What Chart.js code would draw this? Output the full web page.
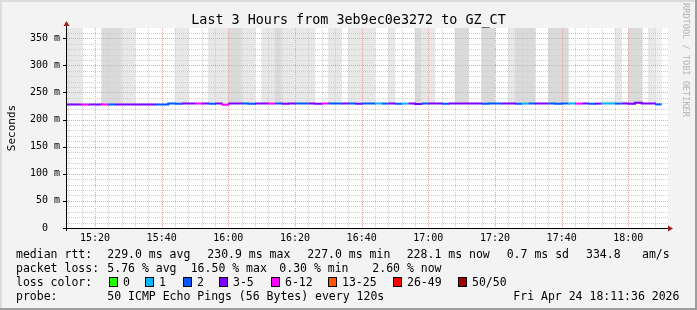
<!DOCTYPE html>
<html>
<head>
<meta charset="utf-8">
<script src="https://cdn.jsdelivr.net/npm/chart.js@4.4.1/dist/chart.umd.min.js"></script>
<style>
  html, body { margin: 0; padding: 0; background: #f3f3f3; }
  canvas { display: block; }
</style>
</head>
<body>
<canvas id="smokeChart" width="697" height="310"></canvas>
<script>
// Time window shown (minutes after midnight): 15:11:36 .. 18:11:36
const windowStart = 15 * 60 + 11.6;
const windowEnd = 18 * 60 + 11.6;

// First sample starts at 15:10, one sample every 2 minutes
const firstSample = 15 * 60 + 10;
const sampleStep = 2;

// Median round trip time per sample (ms)
const medianRtt = [
  227.9, 227.9, 227.8, 227.9, 228.0, 227.9, 227.8, 227.9, 227.9, 228.0,
  227.9, 227.9, 227.8, 227.9, 227.9, 227.9, 229.5, 229.4, 229.6, 229.5,
  229.5, 229.6, 229.4, 229.5, 227.6, 229.5, 229.6, 229.5, 229.4, 229.5,
  229.6, 229.5, 229.5, 229.4, 229.5, 229.6, 229.5, 229.5, 229.4, 229.6,
  229.5, 229.5, 229.6, 229.5, 229.4, 229.5, 229.5, 229.6, 229.5, 229.5,
  229.4, 229.5, 229.5, 229.0, 229.5, 229.6, 229.5, 229.4, 229.5, 229.5,
  229.6, 229.5, 229.5, 229.4, 229.5, 229.5, 229.6, 229.5, 229.4, 229.5,
  229.5, 229.6, 229.5, 229.5, 229.4, 229.5, 229.6, 229.5, 229.5, 229.4,
  229.5, 229.5, 229.6, 229.5, 229.5, 229.4, 230.9, 229.5, 229.6, 228.1
];

// Lost pings per sample (out of 50)
const lostPings = [
  4, 4, 3, 7, 4, 3, 8, 2, 3, 4,
  3, 5, 3, 4, 2, 2, 2, 2, 3, 4,
  7, 3, 2, 4, 7, 3, 5, 2, 2, 3,
  4, 7, 2, 3, 3, 2, 2, 4, 3, 6,
  2, 2, 3, 2, 4, 2, 2, 1, 2, 3,
  2, 1, 3, 4, 2, 3, 3, 2, 4, 3,
  5, 3, 3, 2, 2, 2, 3, 4, 2, 1,
  2, 3, 3, 2, 2, 2, 1, 6, 3, 2,
  3, 1, 1, 2, 3, 4, 3, 3, 4, 1.3
];

// Upper edge of the smoke above the median (ms); null = no smoke
const smokeTop = [
  999, 999, 999, null, null, null, 999, 999, 999, 999,
  999, null, null, null, null, null, null, 999, 999, null,
  null, null, 999, 999, 999, 999, 999, 999, 999, null,
  999, 999, 999, 999, 999, 999, 999, 999, null, null,
  999, 999, null, 999, 999, 999, 999, null, null, 999,
  null, null, null, 999, 999, 999, null, null, null, 999,
  999, null, null, 999, 999, null, null, 999, 999, 999,
  999, null, null, 999, 999, 999, null, null, null, null,
  null, 233.5, 233.5, 999, 233.5, 999, 999, null, 999, 999
];

// Smoke density per sample: 0 none, 1 light, 2 dense, 3 faint
const smokeLevel = [
  1, 1, 1, 0, 0, 0, 2, 2, 2, 1,
  1, 0, 0, 0, 0, 0, 0, 1, 1, 0,
  0, 0, 1, 1, 1, 2, 2, 1, 1, 0,
  1, 1, 2, 1, 1, 1, 1, 1, 0, 0,
  1, 1, 0, 1, 1, 1, 1, 0, 0, 1,
  0, 0, 0, 2, 1, 1, 0, 0, 0, 2,
  2, 0, 0, 2, 2, 0, 0, 1, 2, 2,
  2, 0, 0, 2, 2, 2, 0, 0, 0, 0,
  0, 1, 1, 1, 1, 2, 2, 0, 1, 3
];
const shadeColors = [null, "#e8e8e8", "#dadada", "#f0f0f0"];

// Axis ticks
const timeTicks = ["15:20", "15:40", "16:00", "16:20", "16:40", "17:00", "17:20", "17:40", "18:00"];
const rttTicks = [0, 50, 100, 150, 200, 250, 300, 350];
const rttMax = 369;

// Loss colour legend
const lossLabels = ["0", "1", "2", "3-5", "6-12", "13-25", "26-49", "50/50"];
const lossLimits = [0, 1, 2, 5, 12, 25, 49, 50];
const lossColors = ["#26ff00", "#00b8ff", "#0059ff", "#7e00ff", "#ff00ff", "#ff5500", "#ff0000", "#a10000"];

const monoFont = '"DejaVu Sans Mono", monospace';

// Colour of the median line, picked by how many pings were lost
function lossColor(lost) {
  for (let i = 0; i < lossLimits.length; i++) {
    if (lost <= lossLimits[i]) return lossColors[i];
  }
  return lossColors[lossColors.length - 1];
}

function toMinutes(hhmm) {
  const parts = hhmm.split(":");
  return Number(parts[0]) * 60 + Number(parts[1]);
}

function toHhmm(minutes) {
  const h = Math.floor(minutes / 60);
  const m = Math.round(minutes % 60);
  return String(h).padStart(2, "0") + ":" + String(m).padStart(2, "0");
}

// Median points, one extra point closes the last step
const medianPoints = medianRtt.map((v, i) => ({ x: firstSample + i * sampleStep, y: v }));
medianPoints.push({ x: firstSample + medianRtt.length * sampleStep, y: medianRtt[medianRtt.length - 1] });

// Smoke columns as floating bars from the median up
const smokePoints = [];
const smokeColors = [];
smokeTop.forEach((top, i) => {
  if (top === null) return;
  smokePoints.push({ x: firstSample + i * sampleStep + sampleStep / 2, y: [medianRtt[i], top] });
  smokeColors.push(shadeColors[smokeLevel[i]]);
});

// Draws background, grid, axes, title and legend the rrdtool way
const rrdFrame = {
  id: "rrdFrame",
  beforeDraw(chart) {
    const { ctx, width, height, chartArea: a } = chart;
    ctx.save();
    ctx.fillStyle = "#f3f3f3";
    ctx.fillRect(0, 0, width, height);
    ctx.fillStyle = "#dcdcdc";
    ctx.fillRect(0, 0, width, 2);
    ctx.fillRect(0, 0, 2, height);
    ctx.fillStyle = "#9e9e9e";
    ctx.fillRect(0, height - 2, width, 2);
    ctx.fillRect(width - 2, 0, 2, height);
    ctx.fillStyle = "#ffffff";
    ctx.fillRect(a.left, a.top, a.right - a.left + 1, a.bottom - a.top);
    ctx.restore();
  },
  afterDatasetDraw(chart, args) {
    // grid goes over the smoke but under the median line
    if (args.meta.type !== "bar") return;
    const { ctx, chartArea: a, scales } = chart;
    const x = scales.x;
    const y = scales.y;
    ctx.save();
    ctx.lineWidth = 1;
    ctx.setLineDash([1, 1]);
    for (let m = Math.ceil(x.min / 4) * 4; m <= x.max; m += 4) {
      const px = Math.round(x.getPixelForValue(m)) + 0.5;
      ctx.strokeStyle = m % 20 === 0 ? "#f2a0a0" : "#cfcfcf";
      ctx.beginPath();
      ctx.moveTo(px, a.top);
      ctx.lineTo(px, a.bottom);
      ctx.stroke();
    }
    for (let v = 10; v <= y.max; v += 10) {
      const py = Math.round(y.getPixelForValue(v)) + 0.5;
      ctx.strokeStyle = v % 50 === 0 ? "#f2a0a0" : "#cfcfcf";
      ctx.beginPath();
      ctx.moveTo(a.left, py);
      ctx.lineTo(a.right + 1, py);
      ctx.stroke();
    }
    ctx.restore();
  },
  afterDatasetsDraw(chart) {
    const { ctx, chartArea: a, scales } = chart;
    const y = scales.y;
    const ax = a.left - 0.5;
    const ay = a.bottom + 0.5;
    ctx.save();
    ctx.strokeStyle = "#000000";
    ctx.lineWidth = 1;
    ctx.beginPath();
    ctx.moveTo(a.left - 4, ay);
    ctx.lineTo(a.right + 2, ay);
    ctx.moveTo(ax, a.bottom + 3);
    ctx.lineTo(ax, a.top - 3);
    // tick marks on the value axis
    rttTicks.forEach(v => {
      const py = Math.round(y.getPixelForValue(v)) + 0.5;
      ctx.moveTo(a.left - 4, py);
      ctx.lineTo(a.left, py);
    });
    ctx.stroke();
    // arrow heads
    ctx.fillStyle = "#9a2222";
    ctx.beginPath();
    ctx.moveTo(ax, a.top - 7);
    ctx.lineTo(ax - 3, a.top - 2);
    ctx.lineTo(ax + 3, a.top - 2);
    ctx.closePath();
    ctx.fill();
    ctx.beginPath();
    ctx.moveTo(a.right + 6, ay);
    ctx.lineTo(a.right + 1, ay - 3);
    ctx.lineTo(a.right + 1, ay + 3);
    ctx.closePath();
    ctx.fill();
    ctx.restore();
  },
  afterDraw(chart) {
    const { ctx } = chart;
    ctx.save();
    ctx.fillStyle = "#000000";
    ctx.textBaseline = "alphabetic";

    // Title
    ctx.font = "13.4px " + monoFont;
    ctx.textAlign = "center";
    ctx.fillText("Last 3 Hours from 3eb9ec0e3272 to GZ_CT", 348.5, 24);

    // Vertical axis title
    ctx.save();
    ctx.translate(14.5, 128);
    ctx.rotate(-Math.PI / 2);
    ctx.font = "11px " + monoFont;
    ctx.fillText("Seconds", 0, 0);
    ctx.restore();

    // Watermark
    ctx.save();
    ctx.translate(683, 60);
    ctx.rotate(Math.PI / 2);
    ctx.font = "8.6px " + monoFont;
    ctx.fillStyle = "#b4b4b4";
    ctx.fillText("RRDTOOL / TOBI OETIKER", 0, 0);
    ctx.restore();

    // Legend rows
    ctx.textAlign = "left";
    ctx.font = "11.5px " + monoFont;
    const row1 = [["median rtt:", 16], ["229.0 ms avg", 107.3], ["230.9 ms max", 207.3], ["227.0 ms min", 307.3],
      ["228.1 ms now", 406.7], ["0.7 ms sd", 506.7], ["334.8", 586], ["am/s", 642]];
    row1.forEach(p => ctx.fillText(p[0], p[1], 258));
    const row2 = [["packet loss:", 16], ["5.76 % avg", 107.3], ["16.50 % max", 190.7], ["0.30 % min", 279.3], ["2.60 % now", 372.3]];
    row2.forEach(p => ctx.fillText(p[0], p[1], 272));
    ctx.fillText("loss color:", 16, 286);
    const boxX = [108.7, 145.3, 182.7, 219.3, 270.7, 328.3, 393.3, 458.3];
    lossLabels.forEach((label, i) => {
      const bx = Math.round(boxX[i]);
      ctx.fillStyle = lossColors[i];
      ctx.fillRect(bx, 278, 8, 8);
      ctx.strokeStyle = "#000000";
      ctx.lineWidth = 1;
      ctx.strokeRect(bx + 0.5, 277.5, 8, 9);
      ctx.fillStyle = "#000000";
      ctx.fillText(label, bx + 14, 286);
    });
    ctx.fillText("probe:", 16, 300);
    ctx.fillText("50 ICMP Echo Pings (56 Bytes) every 120s", 107.3, 300);
    ctx.fillText("Fri Apr 24 18:11:36 2026", 513.3, 300);
    ctx.restore();
  }
};

const ctx = document.getElementById("smokeChart").getContext("2d");
const chart = new Chart(ctx, {
  type: "line",
  data: {
    datasets: [
      {
        type: "line",
        label: "median rtt",
        data: medianPoints,
        stepped: true,
        borderWidth: 2,
        pointRadius: 0,
        borderColor: lossColor(lostPings[0]),
        segment: {
          borderColor: c => lossColor(lostPings[Math.min(c.p0DataIndex, lostPings.length - 1)])
        },
        order: 0
      },
      {
        type: "bar",
        label: "smoke",
        data: smokePoints,
        backgroundColor: smokeColors,
        borderWidth: 0,
        barPercentage: 1,
        categoryPercentage: 1,
        order: 1
      }
    ]
  },
  options: {
    responsive: false,
    animation: false,
    layout: { padding: { top: 28, right: 30, left: 0, bottom: 0 } },
    plugins: {
      legend: { display: false },
      tooltip: { enabled: false },
      title: { display: false }
    },
    scales: {
      x: {
        type: "linear",
        min: windowStart,
        max: windowEnd,
        offset: false,
        grid: { display: false, drawTicks: false },
        border: { display: false },
        afterBuildTicks: s => { s.ticks = timeTicks.map(t => ({ value: toMinutes(t) })); },
        afterFit: s => { s.height = 82; },
        ticks: {
          autoSkip: false,
          maxRotation: 0,
          padding: 4,
          color: "#000000",
          font: { family: monoFont, size: 10 },
          callback: v => toHhmm(v)
        }
      },
      y: {
        type: "linear",
        min: 0,
        max: rttMax,
        grid: { display: false, drawTicks: false },
        border: { display: false },
        afterBuildTicks: s => { s.ticks = rttTicks.map(v => ({ value: v })); },
        afterFit: s => { s.width = 67; },
        ticks: {
          padding: 7,
          color: "#000000",
          font: { family: monoFont, size: 10 },
          callback: v => (v === 0 ? "0  " : v + " m")
        }
      }
    }
  },
  plugins: [rrdFrame]
});
</script>
</body>
</html>
